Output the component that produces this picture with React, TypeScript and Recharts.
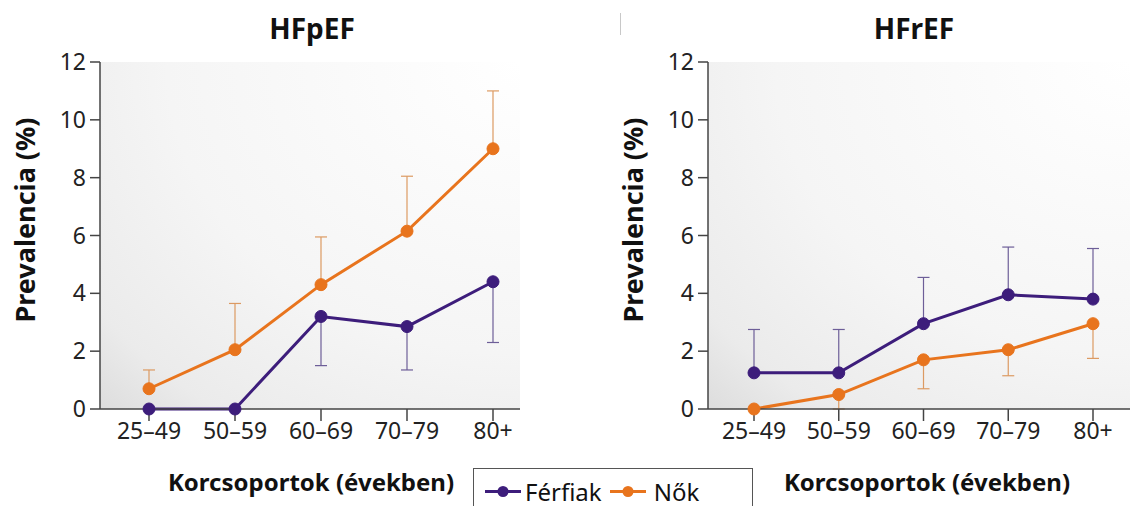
import { LineChart, Line, XAxis, YAxis, CartesianGrid, ErrorBar } from 'recharts';

// ── data ─────────────────────────────────────────────────────────────────────

const ageGroups = ['25–49', '50–59', '60–69', '70–79', '80+'];
const yTicks = [0, 2, 4, 6, 8, 10, 12];

// HFpEF: men bars point down, women bars point up
const hfpefMen = [0, 0, 3.2, 2.85, 4.4];
const hfpefMenLow = [0, 0, 1.5, 1.35, 2.3];
const hfpefWomen = [0.7, 2.05, 4.3, 6.15, 9.0];
const hfpefWomenHigh = [1.35, 3.65, 5.95, 8.05, 11.0];

// HFrEF: men bars point up, women bars point down
const hfrefMen = [1.25, 1.25, 2.95, 3.95, 3.8];
const hfrefMenHigh = [2.75, 2.75, 4.55, 5.6, 5.55];
const hfrefWomen = [0, 0.5, 1.7, 2.05, 2.95];
const hfrefWomenLow = [0, 0, 0.7, 1.15, 1.75];

const PURPLE = '#3d1d7b';
const ORANGE = '#e8741d';
const PURPLE_ERR = '#6d5e98';
const ORANGE_ERR = '#dc9a62';
const AXIS = '#444';
const FONT = '"Noto Sans", sans-serif';

// ── helpers ───────────────────────────────────────────────────────────────────

interface Row {
  age: string;
  men: number;
  women: number;
  menErr: [number, number];
  womenErr: [number, number];
}

function buildRows(
  men: number[], menLo: number[] | null, menHi: number[] | null,
  women: number[], womenLo: number[] | null, womenHi: number[] | null,
): Row[] {
  return ageGroups.map((age, i) => ({
    age,
    men: men[i],
    women: women[i],
    menErr: [menLo ? men[i] - menLo[i] : 0, menHi ? menHi[i] - men[i] : 0],
    womenErr: [womenLo ? women[i] - womenLo[i] : 0, womenHi ? womenHi[i] - women[i] : 0],
  }));
}

const hfpefRows = buildRows(hfpefMen, hfpefMenLow, null, hfpefWomen, null, hfpefWomenHigh);
const hfrefRows = buildRows(hfrefMen, null, hfrefMenHigh, hfrefWomen, hfrefWomenLow, null);

const tickStyle = { fontSize: 23, fill: '#222', fontFamily: FONT };

// ── one panel ─────────────────────────────────────────────────────────────────

function Panel({ rows, id, width, marginLeft, marginRight, padLeft, padRight }: {
  rows: Row[]; id: string; width: number; marginLeft: number; marginRight: number;
  padLeft: number; padRight: number;
}) {
  return (
    <LineChart
      width={width}
      height={506}
      data={rows}
      margin={{ top: 62, right: marginRight, bottom: 67, left: marginLeft }}
    >
      <defs>
        <radialGradient id={id} cx="1" cy="0" r="1.4">
          <stop offset="0" stopColor="#ffffff" />
          <stop offset="0.6" stopColor="#f5f5f5" />
          <stop offset="0.88" stopColor="#ebebeb" />
          <stop offset="1" stopColor="#dedede" />
        </radialGradient>
      </defs>
      <CartesianGrid horizontal={false} vertical={false} fill={`url(#${id})`} />
      <XAxis
        dataKey="age"
        padding={{ left: padLeft, right: padRight }}
        tick={tickStyle}
        tickSize={12}
        tickMargin={2}
        stroke={AXIS}
        strokeWidth={1.5}
        interval={0}
        height={30}
      />
      <YAxis
        domain={[0, 12]}
        ticks={yTicks}
        width={60}
        tick={tickStyle}
        tickSize={10}
        tickMargin={4}
        stroke={AXIS}
        strokeWidth={1.5}
      />
      <Line
        dataKey="women"
        stroke={ORANGE}
        strokeWidth={3}
        dot={{ r: 6, fill: ORANGE, stroke: ORANGE, strokeWidth: 1 }}
        isAnimationActive={false}
      >
        <ErrorBar dataKey="womenErr" width={6} stroke={ORANGE_ERR} strokeWidth={1.2} direction="y" />
      </Line>
      <Line
        dataKey="men"
        stroke={PURPLE}
        strokeWidth={3}
        dot={{ r: 6, fill: PURPLE, stroke: PURPLE, strokeWidth: 1 }}
        isAnimationActive={false}
      >
        <ErrorBar dataKey="menErr" width={6} stroke={PURPLE_ERR} strokeWidth={1.2} direction="y" />
      </Line>
    </LineChart>
  );
}

// ── text pieces ───────────────────────────────────────────────────────────────

const abs = (left: number, top: number): React.CSSProperties => ({
  position: 'absolute', left, top, fontFamily: FONT, color: '#111', whiteSpace: 'nowrap',
});

function Title({ x, text }: { x: number; text: string }) {
  return (
    <div style={{ ...abs(x, 28), transform: 'translate(-50%, -50%)', fontSize: 28, fontWeight: 700 }}>
      {text}
    </div>
  );
}

function YTitle({ x }: { x: number }) {
  return (
    <div style={{ ...abs(x, 220), transform: 'translate(-50%, -50%) rotate(-90deg)', fontSize: 27, fontWeight: 700 }}>
      Prevalencia (%)
    </div>
  );
}

function XTitle({ x }: { x: number }) {
  return (
    <div style={{ ...abs(x, 481), transform: 'translate(-50%, -50%)', fontSize: 24, fontWeight: 700 }}>
      Korcsoportok (években)
    </div>
  );
}

function Marker({ color }: { color: string }) {
  return (
    <svg width={36} height={14} style={{ display: 'inline-block', verticalAlign: 'middle' }}>
      <line x1={0} y1={7} x2={36} y2={7} stroke={color} strokeWidth={3} />
      <circle cx={18} cy={7} r={5.5} fill={color} />
    </svg>
  );
}

export default function App() {
  return (
    <div style={{ position: 'absolute', left: 0, top: 0, width: 1130, height: 506, background: '#fff', overflow: 'hidden' }}>
      <div style={{ position: 'absolute', left: 0, top: 0 }}>
        <Panel rows={hfpefRows} id="bgL" width={540} marginLeft={40} marginRight={20} padLeft={49} padRight={27} />
      </div>
      <div style={{ position: 'absolute', left: 600, top: 0 }}>
        <Panel rows={hfrefRows} id="bgR" width={530} marginLeft={48} marginRight={0} padLeft={46} padRight={37} />
      </div>

      <Title x={312} text="HFpEF" />
      <Title x={914} text="HFrEF" />
      <YTitle x={24} />
      <YTitle x={632} />
      <XTitle x={311} />
      <XTitle x={927} />

      <div style={{ position: 'absolute', left: 620, top: 13, width: 1, height: 22, background: '#c8c8c8' }} />

      <div
        style={{
          position: 'absolute', left: 473, top: 468, width: 280, height: 60,
          border: '1.5px solid #555', boxSizing: 'border-box',
        }}
      >
        <div style={{ ...abs(11, 22), transform: 'translateY(-50%)', fontSize: 24, display: 'flex', alignItems: 'center' }}>
          <Marker color={PURPLE} />
          <span style={{ marginLeft: 4 }}>Férfiak</span>
          <span style={{ width: 8 }} />
          <Marker color={ORANGE} />
          <span style={{ marginLeft: 8 }}>Nők</span>
        </div>
      </div>
    </div>
  );
}
